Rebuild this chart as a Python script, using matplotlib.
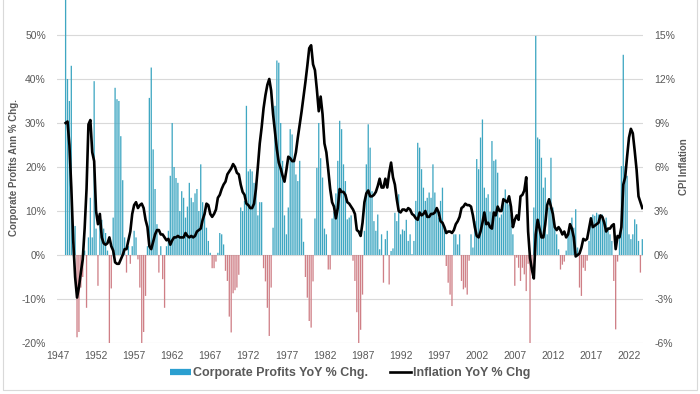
import numpy as np
import matplotlib
matplotlib.use("Agg")
import matplotlib.pyplot as plt
from matplotlib.lines import Line2D
from matplotlib.patches import Rectangle

plt.rcParams['font.family'] = ['Liberation Sans', 'DejaVu Sans']

# Quarterly data, 1948 Q1 .. 2023 Q4
start_year = 1948
profits = [
    62, 40, 35, 43,
    2, 6.6, -18.7, -17.5,
    -7.4, -5, 1, -12,
    4, 13, 4, 39.5,
    6, -7, 7, 8,
    6, 5, 1, -20,
    -7.6, 8.5, 38, 35.4,
    35, 27, 17, 4,
    -4, 2, -2, 2,
    5.5, 4, -1, -7.4,
    -20, -17.5, -9.3, 2,
    35.7, 42.6, 24, 15,
    7, -4, 2, -5.5,
    -12, 2, 5.5, 18,
    30, 20, 17.5, 16.4,
    10, 14.5, 13, 8.5,
    11, 16.4, 13, 12,
    14, 15, 10, 20.6,
    12, 10, 6.2, 3.2,
    0.5, -3, -3, -1.5,
    0.5, 5, 4.7, 2.4,
    -3.6, -5.9, -14, -17.6,
    -8.7, -8, -7.4, -4.5,
    10.8, 10, 12.3, 33.9,
    19, 19.5, 19, 16.4,
    14.5, 9, 12, 12,
    -3, -6, -12, -18.4,
    -7.4, 6.2, 33.9, 44.2,
    43.7, 30, 21.4, 9,
    4.7, 10.8, 28.6, 27.4,
    21.4, 18.3, 16.8, 21.4,
    8.3, 3, -5, -9.7,
    -15, -16.5, -6, 8.3,
    19.8, 30, 22, 17.6,
    6, 4.7, -3.3, -3.3,
    8.3, 9.8, 14, 21.4,
    30.5, 28.6, 20.6, 16.8,
    8.1, 8.5, 9, -1.3,
    -5.9, -13, -20, -17,
    -9, 5.5, 20.6, 29.7,
    24.4, 14.5, 7.7, 5.5,
    9.2, 1.3, 4.7, -6.3,
    3.6, 5.5, -6.7, 0.9,
    1.5, 9.6, 7.7, 13.8,
    4.7, 5.8, 5.5, 8,
    3.2, 4.7, 0.2, 3.2,
    12.3, 25.5, 24.4, 19.5,
    15.3, 12.3, 13, 14.2,
    13, 20.6, 14.2, 10,
    8.5, 12.3, 15.3, 6.2,
    -2.5, -6.3, -9, -11.6,
    4.7, 4.7, 2.4, 4.7,
    -5.9, -7.8, -7.4, -9,
    -1.3, 4.7, 1.7, 7.7,
    21.8, 19.5, 26.7, 30.8,
    15.3, 13, 13.8, 9.8,
    25.9, 21.4, 21.7, 18.7,
    8.5, 9.2, 13, 14.9,
    12.3, 11.5, 9.2, 4.7,
    -7, -0.6, -2.9, -5.9,
    -2.9, -4.4, -8.2, -2,
    -20, -4, 10.8, 49.8,
    26.7, 26.3, 22.1, 15.3,
    17.6, 4.7, 10.8, 22.1,
    10.8, 6.2, 4.7, 1.3,
    -3.3, -2.2, -1.5, 1,
    4.7, 7, 8.5, 6.2,
    10.4, 1.7, -7.4, -9.3,
    -2.9, -3.6, -1.3, 3.2,
    8.5, 9.2, 8.9, 9.6,
    9.2, 8.5, 9.2, 7.7,
    8.5, 6.2, 4.7, 3.2,
    -5.9, -16.9, -1.5, 4.3,
    20.2, 45.5, 20.2, 18,
    4.7, 3.6, 4.7, 8.1,
    7, 3.2, -4, 3.6,
]
cpi = [
    9.0, 9.1, 7.5, 4.6,
    1.0, -1.5, -2.9, -2.2,
    -1.2, -0.3, 1.8, 4.5,
    8.9, 9.2, 7.0, 6.4,
    3.0, 2.1, 2.8, 1.2,
    0.8, 0.7, 0.8, 1.2,
    0.6, 0.3, -0.5, -0.6,
    -0.6, -0.3, 0.0, 0.4,
    0.4, 1.0, 1.6, 2.8,
    3.4, 3.6, 3.2, 3.4,
    3.5, 3.2, 2.4, 1.9,
    0.6, 0.4, 0.9, 1.4,
    1.7, 1.7, 1.4, 1.4,
    1.2, 1.0, 1.1, 0.7,
    1.0, 1.2, 1.2, 1.3,
    1.2, 1.2, 1.2, 1.5,
    1.3, 1.2, 1.3, 1.2,
    1.3, 1.6, 1.7, 1.8,
    2.4, 2.8, 3.5, 3.4,
    2.8, 2.6, 2.8, 3.1,
    3.9, 4.1, 4.5, 4.8,
    5.0, 5.5, 5.7, 5.9,
    6.2, 6.0, 5.6, 5.5,
    4.8, 4.3, 4.1, 3.5,
    3.4, 3.2, 3.2, 3.5,
    4.5, 6.0, 7.6, 8.7,
    10.0, 10.9, 11.6, 12.0,
    11.2, 9.6, 8.4, 7.2,
    6.3, 5.9, 5.4, 5.0,
    5.8, 6.7, 6.6, 6.4,
    6.4, 7.0, 8.0, 8.9,
    9.8, 10.8, 11.8, 12.9,
    14.1, 14.3, 13.0, 12.6,
    11.3, 9.8, 10.8, 9.6,
    7.6, 7.0, 5.8, 4.5,
    3.6, 3.3, 2.5, 3.2,
    4.5, 4.3, 4.3, 4.1,
    3.6, 3.5, 3.3, 3.1,
    2.8, 1.7, 1.6, 1.3,
    2.2, 3.6, 4.2, 4.4,
    4.0, 4.0, 4.1, 4.3,
    4.7, 5.2, 4.6, 4.6,
    5.2, 4.6, 5.6, 6.3,
    5.3, 4.8, 3.8, 3.0,
    2.9, 3.1, 3.1, 3.0,
    3.2, 3.1, 2.8, 2.7,
    2.5, 2.4, 2.9, 2.7,
    2.8, 3.0, 2.6, 2.6,
    2.8, 2.8, 2.9, 3.2,
    2.9, 2.3, 2.2, 1.9,
    1.5, 1.6, 1.6, 1.5,
    1.7, 2.1, 2.3, 2.6,
    3.2, 3.3, 3.5, 3.4,
    3.4, 3.3, 2.7, 1.9,
    1.3, 1.2, 1.6, 2.2,
    2.9, 2.1, 2.2, 1.9,
    1.8, 2.9, 2.7, 3.3,
    3.0, 3.0, 3.8, 3.7,
    3.6, 4.0, 3.3, 1.9,
    2.4, 2.7, 2.4, 4.0,
    4.1, 4.4, 5.3, 1.6,
    -0.2, -1.0, -1.6, 1.4,
    2.4, 1.8, 1.2, 1.2,
    2.1, 3.4, 3.8, 3.3,
    2.8, 1.9, 1.7, 1.9,
    1.7, 1.4, 1.6, 1.2,
    1.4, 2.1, 1.8, 1.2,
    -0.1, 0.0, 0.1, 0.5,
    1.1, 1.0, 1.1, 1.8,
    2.5, 1.9, 2.0, 2.1,
    2.2, 2.7, 2.6, 2.2,
    1.6, 1.8, 1.8, 2.0,
    2.1, 0.4, 1.3, 1.2,
    1.9, 4.8, 5.3, 6.7,
    8.0, 8.6, 8.3, 7.1,
    5.8, 4.0, 3.6, 3.2,
]
year_ticks = list(range(1947, 2023, 5))
left_ticks = [-20, -10, 0, 10, 20, 30, 40, 50]
right_ticks = [-6, -3, 0, 3, 6, 9, 12, 15]

profits = np.array(profits, dtype=float)
cpi = np.array(cpi, dtype=float)
t = start_year + 0.25 * np.arange(len(profits))

W, H = 700, 394
fig = plt.figure(figsize=(7.0, 3.94), dpi=100)
ax = fig.add_axes([57 / W, (H - 343) / H, 586 / W, 343 / H])
ax2 = ax.twinx()

gray = '#595959'
pos_col = '#3FA7C2'
neg_col = '#CF7F86'

colors = [pos_col if v >= 0 else neg_col for v in profits]
bars = ax.bar(t, profits, width=0.17, color=colors, linewidth=0, zorder=2)
for b in bars:
    b.set_snap(False)
ax2.plot(t, cpi, color='black', lw=1.9, zorder=3, solid_joinstyle='round')

ax.set_xlim(1946.87, 2023.84)
ax.set_ylim(-20, 57.95)
ax2.set_ylim(-6, 17.385)

ax.set_yticks(left_ticks)
ax.set_yticklabels([f"{v}%" for v in left_ticks])
ax2.set_yticks(right_ticks)
ax2.set_yticklabels([f"{v}%" for v in right_ticks])
ax.set_xticks(year_ticks)
ax.set_xticklabels([str(y) for y in year_ticks])

for a in (ax, ax2):
    for s in a.spines.values():
        s.set_visible(False)
    a.tick_params(length=0, labelsize=7.5, labelcolor=gray)
ax.tick_params(axis='y', pad=8)
ax2.tick_params(axis='y', pad=8)
ax.tick_params(axis='x', pad=6)

ax.yaxis.grid(True, color='#d9d9d9', lw=0.8, zorder=0)
ax.set_axisbelow(True)
ax2.set_zorder(ax.get_zorder() + 1)
ax2.patch.set_visible(False)

fig.text(14 / W, 1 - 167 / H, 'Corporate Profits Ann % Chg.', rotation=90,
         ha='center', va='center', fontsize=7, color=gray, fontweight='bold')
fig.text(684 / W, 1 - 167 / H, 'CPI Inflation', rotation=90,
         ha='center', va='center', fontsize=7, color=gray, fontweight='bold')

handles = [Line2D([], [], color='#2B9FD0', lw=4.5, solid_capstyle='butt'),
           Line2D([], [], color='black', lw=1.9)]
labels = ['Corporate Profits YoY % Chg.', 'Inflation YoY % Chg']
leg = fig.legend(handles, labels, loc='center', bbox_to_anchor=(0.5, (H - 373) / H),
                 ncol=2, frameon=False, fontsize=9, handlelength=1.7,
                 handletextpad=0.1, columnspacing=1.8, borderpad=0)
for txt in leg.get_texts():
    txt.set_color(gray)
    txt.set_fontweight('bold')

fig.add_artist(Rectangle((3 / W, 4 / H), 694 / W, 1.2, transform=fig.transFigure,
                         fill=False, edgecolor='#d9d9d9', lw=0.8))

fig.savefig('out.png', dpi=100)
